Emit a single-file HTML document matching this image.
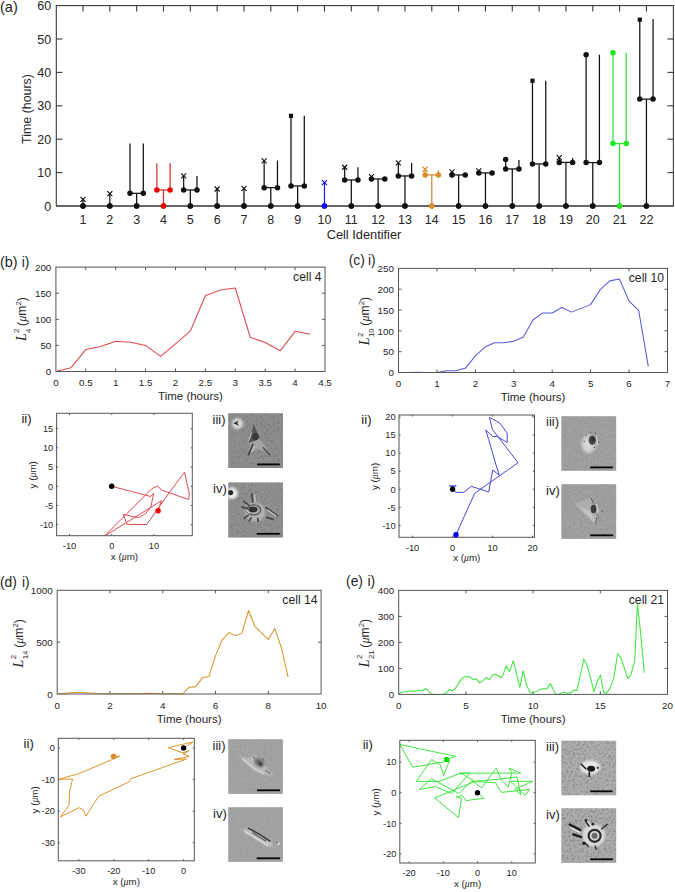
<!DOCTYPE html><html><head><meta charset="utf-8"><style>html,body{margin:0;padding:0;background:#fff;}svg{display:block;font-family:"Liberation Sans",sans-serif;}</style></head><body>
<svg width="675" height="892" viewBox="0 0 675 892">
<defs><filter id="blur1" x="-50%" y="-50%" width="200%" height="200%"><feGaussianBlur stdDeviation="0.55"/></filter><filter id="blur2" x="-50%" y="-50%" width="200%" height="200%"><feGaussianBlur stdDeviation="1.2"/></filter></defs>
<rect width="675" height="892" fill="#fff"/>
<text x="51.2" y="210.5" font-size="12.5" text-anchor="end" fill="#262626" >0</text>
<line x1="56.3" y1="172.6" x2="62.3" y2="172.6" stroke="#3a3a3a" stroke-width="1.1" />
<line x1="673.4" y1="172.6" x2="667.4" y2="172.6" stroke="#3a3a3a" stroke-width="1.1" />
<text x="51.2" y="177.1" font-size="12.5" text-anchor="end" fill="#262626" >10</text>
<line x1="56.3" y1="139.2" x2="62.3" y2="139.2" stroke="#3a3a3a" stroke-width="1.1" />
<line x1="673.4" y1="139.2" x2="667.4" y2="139.2" stroke="#3a3a3a" stroke-width="1.1" />
<text x="51.2" y="143.7" font-size="12.5" text-anchor="end" fill="#262626" >20</text>
<line x1="56.3" y1="105.8" x2="62.3" y2="105.8" stroke="#3a3a3a" stroke-width="1.1" />
<line x1="673.4" y1="105.8" x2="667.4" y2="105.8" stroke="#3a3a3a" stroke-width="1.1" />
<text x="51.2" y="110.3" font-size="12.5" text-anchor="end" fill="#262626" >30</text>
<line x1="56.3" y1="72.4" x2="62.3" y2="72.4" stroke="#3a3a3a" stroke-width="1.1" />
<line x1="673.4" y1="72.4" x2="667.4" y2="72.4" stroke="#3a3a3a" stroke-width="1.1" />
<text x="51.2" y="76.9" font-size="12.5" text-anchor="end" fill="#262626" >40</text>
<line x1="56.3" y1="39" x2="62.3" y2="39" stroke="#3a3a3a" stroke-width="1.1" />
<line x1="673.4" y1="39" x2="667.4" y2="39" stroke="#3a3a3a" stroke-width="1.1" />
<text x="51.2" y="43.5" font-size="12.5" text-anchor="end" fill="#262626" >50</text>
<text x="51.2" y="10.1" font-size="12.5" text-anchor="end" fill="#262626" >60</text>
<line x1="83" y1="5.6" x2="83" y2="11.6" stroke="#3a3a3a" stroke-width="1.1" />
<text x="83" y="223.8" font-size="12.5" text-anchor="middle" fill="#262626" >1</text>
<line x1="109.83" y1="5.6" x2="109.83" y2="11.6" stroke="#3a3a3a" stroke-width="1.1" />
<text x="109.83" y="223.8" font-size="12.5" text-anchor="middle" fill="#262626" >2</text>
<line x1="136.66" y1="5.6" x2="136.66" y2="11.6" stroke="#3a3a3a" stroke-width="1.1" />
<text x="136.66" y="223.8" font-size="12.5" text-anchor="middle" fill="#262626" >3</text>
<line x1="163.49" y1="5.6" x2="163.49" y2="11.6" stroke="#3a3a3a" stroke-width="1.1" />
<text x="163.49" y="223.8" font-size="12.5" text-anchor="middle" fill="#262626" >4</text>
<line x1="190.32" y1="5.6" x2="190.32" y2="11.6" stroke="#3a3a3a" stroke-width="1.1" />
<text x="190.32" y="223.8" font-size="12.5" text-anchor="middle" fill="#262626" >5</text>
<line x1="217.15" y1="5.6" x2="217.15" y2="11.6" stroke="#3a3a3a" stroke-width="1.1" />
<text x="217.15" y="223.8" font-size="12.5" text-anchor="middle" fill="#262626" >6</text>
<line x1="243.98" y1="5.6" x2="243.98" y2="11.6" stroke="#3a3a3a" stroke-width="1.1" />
<text x="243.98" y="223.8" font-size="12.5" text-anchor="middle" fill="#262626" >7</text>
<line x1="270.81" y1="5.6" x2="270.81" y2="11.6" stroke="#3a3a3a" stroke-width="1.1" />
<text x="270.81" y="223.8" font-size="12.5" text-anchor="middle" fill="#262626" >8</text>
<line x1="297.64" y1="5.6" x2="297.64" y2="11.6" stroke="#3a3a3a" stroke-width="1.1" />
<text x="297.64" y="223.8" font-size="12.5" text-anchor="middle" fill="#262626" >9</text>
<line x1="324.47" y1="5.6" x2="324.47" y2="11.6" stroke="#3a3a3a" stroke-width="1.1" />
<text x="324.47" y="223.8" font-size="12.5" text-anchor="middle" fill="#262626" >10</text>
<line x1="351.3" y1="5.6" x2="351.3" y2="11.6" stroke="#3a3a3a" stroke-width="1.1" />
<text x="351.3" y="223.8" font-size="12.5" text-anchor="middle" fill="#262626" >11</text>
<line x1="378.13" y1="5.6" x2="378.13" y2="11.6" stroke="#3a3a3a" stroke-width="1.1" />
<text x="378.13" y="223.8" font-size="12.5" text-anchor="middle" fill="#262626" >12</text>
<line x1="404.96" y1="5.6" x2="404.96" y2="11.6" stroke="#3a3a3a" stroke-width="1.1" />
<text x="404.96" y="223.8" font-size="12.5" text-anchor="middle" fill="#262626" >13</text>
<line x1="431.79" y1="5.6" x2="431.79" y2="11.6" stroke="#3a3a3a" stroke-width="1.1" />
<text x="431.79" y="223.8" font-size="12.5" text-anchor="middle" fill="#262626" >14</text>
<line x1="458.62" y1="5.6" x2="458.62" y2="11.6" stroke="#3a3a3a" stroke-width="1.1" />
<text x="458.62" y="223.8" font-size="12.5" text-anchor="middle" fill="#262626" >15</text>
<line x1="485.45" y1="5.6" x2="485.45" y2="11.6" stroke="#3a3a3a" stroke-width="1.1" />
<text x="485.45" y="223.8" font-size="12.5" text-anchor="middle" fill="#262626" >16</text>
<line x1="512.28" y1="5.6" x2="512.28" y2="11.6" stroke="#3a3a3a" stroke-width="1.1" />
<text x="512.28" y="223.8" font-size="12.5" text-anchor="middle" fill="#262626" >17</text>
<line x1="539.11" y1="5.6" x2="539.11" y2="11.6" stroke="#3a3a3a" stroke-width="1.1" />
<text x="539.11" y="223.8" font-size="12.5" text-anchor="middle" fill="#262626" >18</text>
<line x1="565.94" y1="5.6" x2="565.94" y2="11.6" stroke="#3a3a3a" stroke-width="1.1" />
<text x="565.94" y="223.8" font-size="12.5" text-anchor="middle" fill="#262626" >19</text>
<line x1="592.77" y1="5.6" x2="592.77" y2="11.6" stroke="#3a3a3a" stroke-width="1.1" />
<text x="592.77" y="223.8" font-size="12.5" text-anchor="middle" fill="#262626" >20</text>
<line x1="619.6" y1="5.6" x2="619.6" y2="11.6" stroke="#3a3a3a" stroke-width="1.1" />
<text x="619.6" y="223.8" font-size="12.5" text-anchor="middle" fill="#262626" >21</text>
<line x1="646.43" y1="5.6" x2="646.43" y2="11.6" stroke="#3a3a3a" stroke-width="1.1" />
<text x="646.43" y="223.8" font-size="12.5" text-anchor="middle" fill="#262626" >22</text>
<rect x="56.3" y="5.6" width="617.1" height="200.4" fill="none" stroke="#3a3a3a" stroke-width="1.1"/>
<text x="-0.1" y="11.9" font-size="14.6" text-anchor="start" fill="#262626" >(a)</text>
<text transform="translate(31.2,109) rotate(-90)" font-size="12.4" text-anchor="middle" fill="#262626">Time (hours)</text>
<text x="364" y="239" font-size="12.8" text-anchor="middle" fill="#262626" >Cell Identifier</text>
<line x1="83" y1="206" x2="83" y2="199.32" stroke="#111" stroke-width="1.25" />
<circle cx="83" cy="206" r="2.75" fill="#111"/>
<line x1="80.5" y1="196.82" x2="85.5" y2="201.82" stroke="#111" stroke-width="1.15" />
<line x1="80.5" y1="201.82" x2="85.5" y2="196.82" stroke="#111" stroke-width="1.15" />
<line x1="109.83" y1="206" x2="109.83" y2="193.64" stroke="#111" stroke-width="1.25" />
<circle cx="109.83" cy="206" r="2.75" fill="#111"/>
<line x1="107.33" y1="191.14" x2="112.33" y2="196.14" stroke="#111" stroke-width="1.15" />
<line x1="107.33" y1="196.14" x2="112.33" y2="191.14" stroke="#111" stroke-width="1.15" />
<line x1="136.66" y1="206" x2="136.66" y2="193.31" stroke="#111" stroke-width="1.25" />
<line x1="130.01" y1="193.31" x2="143.31" y2="193.31" stroke="#111" stroke-width="1.25" />
<line x1="130.01" y1="193.31" x2="130.01" y2="143.54" stroke="#111" stroke-width="1.25" />
<line x1="143.31" y1="193.31" x2="143.31" y2="143.54" stroke="#111" stroke-width="1.25" />
<circle cx="136.66" cy="206" r="2.75" fill="#111"/>
<circle cx="130.01" cy="193.31" r="2.75" fill="#111"/>
<circle cx="143.31" cy="193.31" r="2.75" fill="#111"/>
<line x1="163.49" y1="206" x2="163.49" y2="189.97" stroke="#d03030" stroke-width="1.25" />
<line x1="156.84" y1="189.97" x2="170.14" y2="189.97" stroke="#d03030" stroke-width="1.25" />
<line x1="156.84" y1="189.97" x2="156.84" y2="163.25" stroke="#d03030" stroke-width="1.25" />
<line x1="170.14" y1="189.97" x2="170.14" y2="163.25" stroke="#d03030" stroke-width="1.25" />
<circle cx="163.49" cy="206" r="2.75" fill="#f00000"/>
<circle cx="156.84" cy="189.97" r="2.75" fill="#f00000"/>
<circle cx="170.14" cy="189.97" r="2.75" fill="#f00000"/>
<line x1="190.32" y1="206" x2="190.32" y2="189.97" stroke="#111" stroke-width="1.25" />
<line x1="183.67" y1="189.97" x2="196.97" y2="189.97" stroke="#111" stroke-width="1.25" />
<line x1="183.67" y1="189.97" x2="183.67" y2="175.94" stroke="#111" stroke-width="1.25" />
<line x1="196.97" y1="189.97" x2="196.97" y2="175.94" stroke="#111" stroke-width="1.25" />
<circle cx="190.32" cy="206" r="2.75" fill="#111"/>
<circle cx="183.67" cy="189.97" r="2.75" fill="#111"/>
<circle cx="196.97" cy="189.97" r="2.75" fill="#111"/>
<line x1="181.17" y1="173.44" x2="186.17" y2="178.44" stroke="#111" stroke-width="1.15" />
<line x1="181.17" y1="178.44" x2="186.17" y2="173.44" stroke="#111" stroke-width="1.15" />
<line x1="217.15" y1="206" x2="217.15" y2="188.97" stroke="#111" stroke-width="1.25" />
<circle cx="217.15" cy="206" r="2.75" fill="#111"/>
<line x1="214.65" y1="186.47" x2="219.65" y2="191.47" stroke="#111" stroke-width="1.15" />
<line x1="214.65" y1="191.47" x2="219.65" y2="186.47" stroke="#111" stroke-width="1.15" />
<line x1="243.98" y1="206" x2="243.98" y2="188.3" stroke="#111" stroke-width="1.25" />
<circle cx="243.98" cy="206" r="2.75" fill="#111"/>
<line x1="241.48" y1="185.8" x2="246.48" y2="190.8" stroke="#111" stroke-width="1.15" />
<line x1="241.48" y1="190.8" x2="246.48" y2="185.8" stroke="#111" stroke-width="1.15" />
<line x1="270.81" y1="206" x2="270.81" y2="187.63" stroke="#111" stroke-width="1.25" />
<line x1="264.16" y1="187.63" x2="277.46" y2="187.63" stroke="#111" stroke-width="1.25" />
<line x1="264.16" y1="187.63" x2="264.16" y2="160.91" stroke="#111" stroke-width="1.25" />
<line x1="277.46" y1="187.63" x2="277.46" y2="160.58" stroke="#111" stroke-width="1.25" />
<circle cx="270.81" cy="206" r="2.75" fill="#111"/>
<circle cx="264.16" cy="187.63" r="2.75" fill="#111"/>
<circle cx="277.46" cy="187.63" r="2.75" fill="#111"/>
<line x1="261.66" y1="158.41" x2="266.66" y2="163.41" stroke="#111" stroke-width="1.15" />
<line x1="261.66" y1="163.41" x2="266.66" y2="158.41" stroke="#111" stroke-width="1.15" />
<line x1="297.64" y1="206" x2="297.64" y2="185.96" stroke="#111" stroke-width="1.25" />
<line x1="290.99" y1="185.96" x2="304.29" y2="185.96" stroke="#111" stroke-width="1.25" />
<line x1="290.99" y1="185.96" x2="290.99" y2="115.82" stroke="#111" stroke-width="1.25" />
<line x1="304.29" y1="185.96" x2="304.29" y2="115.82" stroke="#111" stroke-width="1.25" />
<circle cx="297.64" cy="206" r="2.75" fill="#111"/>
<circle cx="290.99" cy="185.96" r="2.75" fill="#111"/>
<circle cx="304.29" cy="185.96" r="2.75" fill="#111"/>
<rect x="288.89" y="113.72" width="4.2" height="4.2" fill="#111"/>
<line x1="324.47" y1="206" x2="324.47" y2="182.62" stroke="#2020e0" stroke-width="1.25" />
<circle cx="324.47" cy="206" r="2.75" fill="#1010f0"/>
<line x1="321.97" y1="180.12" x2="326.97" y2="185.12" stroke="#1010f0" stroke-width="1.15" />
<line x1="321.97" y1="185.12" x2="326.97" y2="180.12" stroke="#1010f0" stroke-width="1.15" />
<line x1="351.3" y1="206" x2="351.3" y2="179.95" stroke="#111" stroke-width="1.25" />
<line x1="344.65" y1="179.95" x2="357.95" y2="179.95" stroke="#111" stroke-width="1.25" />
<line x1="344.65" y1="179.95" x2="344.65" y2="167.26" stroke="#111" stroke-width="1.25" />
<line x1="357.95" y1="179.95" x2="357.95" y2="167.26" stroke="#111" stroke-width="1.25" />
<circle cx="351.3" cy="206" r="2.75" fill="#111"/>
<circle cx="344.65" cy="179.95" r="2.75" fill="#111"/>
<circle cx="357.95" cy="179.95" r="2.75" fill="#111"/>
<line x1="342.15" y1="164.76" x2="347.15" y2="169.76" stroke="#111" stroke-width="1.15" />
<line x1="342.15" y1="169.76" x2="347.15" y2="164.76" stroke="#111" stroke-width="1.15" />
<line x1="378.13" y1="206" x2="378.13" y2="178.95" stroke="#111" stroke-width="1.25" />
<line x1="371.48" y1="178.95" x2="384.78" y2="178.95" stroke="#111" stroke-width="1.25" />
<line x1="371.48" y1="178.95" x2="371.48" y2="176.61" stroke="#111" stroke-width="1.25" />
<line x1="384.78" y1="178.95" x2="384.78" y2="178.95" stroke="#111" stroke-width="1.25" />
<circle cx="378.13" cy="206" r="2.75" fill="#111"/>
<circle cx="371.48" cy="178.95" r="2.75" fill="#111"/>
<circle cx="384.78" cy="178.95" r="2.75" fill="#111"/>
<line x1="368.98" y1="174.11" x2="373.98" y2="179.11" stroke="#111" stroke-width="1.15" />
<line x1="368.98" y1="179.11" x2="373.98" y2="174.11" stroke="#111" stroke-width="1.15" />
<line x1="404.96" y1="206" x2="404.96" y2="175.94" stroke="#111" stroke-width="1.25" />
<line x1="398.31" y1="175.94" x2="411.61" y2="175.94" stroke="#111" stroke-width="1.25" />
<line x1="398.31" y1="175.94" x2="398.31" y2="162.91" stroke="#111" stroke-width="1.25" />
<line x1="411.61" y1="175.94" x2="411.61" y2="162.91" stroke="#111" stroke-width="1.25" />
<circle cx="404.96" cy="206" r="2.75" fill="#111"/>
<circle cx="398.31" cy="175.94" r="2.75" fill="#111"/>
<circle cx="411.61" cy="175.94" r="2.75" fill="#111"/>
<line x1="395.81" y1="160.41" x2="400.81" y2="165.41" stroke="#111" stroke-width="1.15" />
<line x1="395.81" y1="165.41" x2="400.81" y2="160.41" stroke="#111" stroke-width="1.15" />
<line x1="431.79" y1="206" x2="431.79" y2="174.94" stroke="#d08a30" stroke-width="1.25" />
<line x1="425.14" y1="174.94" x2="438.44" y2="174.94" stroke="#d08a30" stroke-width="1.25" />
<line x1="425.14" y1="174.94" x2="425.14" y2="169.26" stroke="#d08a30" stroke-width="1.25" />
<line x1="438.44" y1="174.94" x2="438.44" y2="170.26" stroke="#d08a30" stroke-width="1.25" />
<circle cx="431.79" cy="206" r="2.75" fill="#d98d2c"/>
<circle cx="425.14" cy="174.94" r="2.75" fill="#d98d2c"/>
<circle cx="438.44" cy="174.94" r="2.75" fill="#d98d2c"/>
<line x1="422.64" y1="166.76" x2="427.64" y2="171.76" stroke="#d98d2c" stroke-width="1.15" />
<line x1="422.64" y1="171.76" x2="427.64" y2="166.76" stroke="#d98d2c" stroke-width="1.15" />
<line x1="458.62" y1="206" x2="458.62" y2="174.94" stroke="#111" stroke-width="1.25" />
<line x1="451.97" y1="174.94" x2="465.27" y2="174.94" stroke="#111" stroke-width="1.25" />
<line x1="451.97" y1="174.94" x2="451.97" y2="171.93" stroke="#111" stroke-width="1.25" />
<line x1="465.27" y1="174.94" x2="465.27" y2="174.94" stroke="#111" stroke-width="1.25" />
<circle cx="458.62" cy="206" r="2.75" fill="#111"/>
<circle cx="451.97" cy="174.94" r="2.75" fill="#111"/>
<circle cx="465.27" cy="174.94" r="2.75" fill="#111"/>
<line x1="449.47" y1="169.43" x2="454.47" y2="174.43" stroke="#111" stroke-width="1.15" />
<line x1="449.47" y1="174.43" x2="454.47" y2="169.43" stroke="#111" stroke-width="1.15" />
<line x1="485.45" y1="206" x2="485.45" y2="172.93" stroke="#111" stroke-width="1.25" />
<line x1="478.8" y1="172.93" x2="492.1" y2="172.93" stroke="#111" stroke-width="1.25" />
<line x1="478.8" y1="172.93" x2="478.8" y2="170.93" stroke="#111" stroke-width="1.25" />
<line x1="492.1" y1="172.93" x2="492.1" y2="172.93" stroke="#111" stroke-width="1.25" />
<circle cx="485.45" cy="206" r="2.75" fill="#111"/>
<circle cx="478.8" cy="172.93" r="2.75" fill="#111"/>
<circle cx="492.1" cy="172.93" r="2.75" fill="#111"/>
<line x1="476.3" y1="168.43" x2="481.3" y2="173.43" stroke="#111" stroke-width="1.15" />
<line x1="476.3" y1="173.43" x2="481.3" y2="168.43" stroke="#111" stroke-width="1.15" />
<line x1="512.28" y1="206" x2="512.28" y2="168.93" stroke="#111" stroke-width="1.25" />
<line x1="505.63" y1="168.93" x2="518.93" y2="168.93" stroke="#111" stroke-width="1.25" />
<line x1="505.63" y1="168.93" x2="505.63" y2="159.57" stroke="#111" stroke-width="1.25" />
<line x1="518.93" y1="168.93" x2="518.93" y2="159.91" stroke="#111" stroke-width="1.25" />
<circle cx="512.28" cy="206" r="2.75" fill="#111"/>
<circle cx="505.63" cy="168.93" r="2.75" fill="#111"/>
<circle cx="518.93" cy="168.93" r="2.75" fill="#111"/>
<circle cx="505.63" cy="159.57" r="2.75" fill="#111"/>
<line x1="539.11" y1="206" x2="539.11" y2="163.92" stroke="#111" stroke-width="1.25" />
<line x1="532.46" y1="163.92" x2="545.76" y2="163.92" stroke="#111" stroke-width="1.25" />
<line x1="532.46" y1="163.92" x2="532.46" y2="80.75" stroke="#111" stroke-width="1.25" />
<line x1="545.76" y1="163.92" x2="545.76" y2="80.75" stroke="#111" stroke-width="1.25" />
<circle cx="539.11" cy="206" r="2.75" fill="#111"/>
<circle cx="532.46" cy="163.92" r="2.75" fill="#111"/>
<circle cx="545.76" cy="163.92" r="2.75" fill="#111"/>
<rect x="530.36" y="78.65" width="4.2" height="4.2" fill="#111"/>
<line x1="565.94" y1="206" x2="565.94" y2="162.41" stroke="#111" stroke-width="1.25" />
<line x1="559.29" y1="162.41" x2="572.59" y2="162.41" stroke="#111" stroke-width="1.25" />
<line x1="559.29" y1="162.41" x2="559.29" y2="157.57" stroke="#111" stroke-width="1.25" />
<line x1="572.59" y1="162.41" x2="572.59" y2="157.9" stroke="#111" stroke-width="1.25" />
<circle cx="565.94" cy="206" r="2.75" fill="#111"/>
<circle cx="559.29" cy="162.41" r="2.75" fill="#111"/>
<circle cx="572.59" cy="162.41" r="2.75" fill="#111"/>
<line x1="556.79" y1="155.07" x2="561.79" y2="160.07" stroke="#111" stroke-width="1.15" />
<line x1="556.79" y1="160.07" x2="561.79" y2="155.07" stroke="#111" stroke-width="1.15" />
<line x1="592.77" y1="206" x2="592.77" y2="162.58" stroke="#111" stroke-width="1.25" />
<line x1="586.12" y1="162.58" x2="599.42" y2="162.58" stroke="#111" stroke-width="1.25" />
<line x1="586.12" y1="162.58" x2="586.12" y2="54.7" stroke="#111" stroke-width="1.25" />
<line x1="599.42" y1="162.58" x2="599.42" y2="54.7" stroke="#111" stroke-width="1.25" />
<circle cx="592.77" cy="206" r="2.75" fill="#111"/>
<circle cx="586.12" cy="162.58" r="2.75" fill="#111"/>
<circle cx="599.42" cy="162.58" r="2.75" fill="#111"/>
<circle cx="586.12" cy="54.7" r="2.75" fill="#111"/>
<line x1="619.6" y1="206" x2="619.6" y2="143.54" stroke="#3ae03a" stroke-width="1.25" />
<line x1="612.95" y1="143.54" x2="626.25" y2="143.54" stroke="#3ae03a" stroke-width="1.25" />
<line x1="612.95" y1="143.54" x2="612.95" y2="52.69" stroke="#3ae03a" stroke-width="1.25" />
<line x1="626.25" y1="143.54" x2="626.25" y2="52.69" stroke="#3ae03a" stroke-width="1.25" />
<circle cx="619.6" cy="206" r="2.75" fill="#1ee81e"/>
<circle cx="612.95" cy="143.54" r="2.75" fill="#1ee81e"/>
<circle cx="626.25" cy="143.54" r="2.75" fill="#1ee81e"/>
<circle cx="612.95" cy="52.69" r="2.75" fill="#1ee81e"/>
<line x1="646.43" y1="206" x2="646.43" y2="99.12" stroke="#111" stroke-width="1.25" />
<line x1="639.78" y1="99.12" x2="653.08" y2="99.12" stroke="#111" stroke-width="1.25" />
<line x1="639.78" y1="99.12" x2="639.78" y2="19.63" stroke="#111" stroke-width="1.25" />
<line x1="653.08" y1="99.12" x2="653.08" y2="18.96" stroke="#111" stroke-width="1.25" />
<circle cx="646.43" cy="206" r="2.75" fill="#111"/>
<circle cx="639.78" cy="99.12" r="2.75" fill="#111"/>
<circle cx="653.08" cy="99.12" r="2.75" fill="#111"/>
<rect x="637.68" y="17.53" width="4.2" height="4.2" fill="#111"/>
<line x1="56.3" y1="206" x2="673.4" y2="206" stroke="#3a3a3a" stroke-width="1.1" />
<circle cx="83" cy="206" r="2.75" fill="#111"/>
<circle cx="109.83" cy="206" r="2.75" fill="#111"/>
<circle cx="136.66" cy="206" r="2.75" fill="#111"/>
<circle cx="163.49" cy="206" r="2.75" fill="#f00000"/>
<circle cx="190.32" cy="206" r="2.75" fill="#111"/>
<circle cx="217.15" cy="206" r="2.75" fill="#111"/>
<circle cx="243.98" cy="206" r="2.75" fill="#111"/>
<circle cx="270.81" cy="206" r="2.75" fill="#111"/>
<circle cx="297.64" cy="206" r="2.75" fill="#111"/>
<circle cx="324.47" cy="206" r="2.75" fill="#1010f0"/>
<circle cx="351.3" cy="206" r="2.75" fill="#111"/>
<circle cx="378.13" cy="206" r="2.75" fill="#111"/>
<circle cx="404.96" cy="206" r="2.75" fill="#111"/>
<circle cx="431.79" cy="206" r="2.75" fill="#d98d2c"/>
<circle cx="458.62" cy="206" r="2.75" fill="#111"/>
<circle cx="485.45" cy="206" r="2.75" fill="#111"/>
<circle cx="512.28" cy="206" r="2.75" fill="#111"/>
<circle cx="539.11" cy="206" r="2.75" fill="#111"/>
<circle cx="565.94" cy="206" r="2.75" fill="#111"/>
<circle cx="592.77" cy="206" r="2.75" fill="#111"/>
<circle cx="619.6" cy="206" r="2.75" fill="#1ee81e"/>
<circle cx="646.43" cy="206" r="2.75" fill="#111"/>
<text x="55.9" y="386.1" font-size="9.8" text-anchor="middle" fill="#262626" >0</text>
<line x1="85.8" y1="371.5" x2="85.8" y2="368.5" stroke="#555555" stroke-width="1" />
<line x1="85.8" y1="267.1" x2="85.8" y2="270.1" stroke="#555555" stroke-width="1" />
<text x="85.8" y="386.1" font-size="9.8" text-anchor="middle" fill="#262626" >0.5</text>
<line x1="115.7" y1="371.5" x2="115.7" y2="368.5" stroke="#555555" stroke-width="1" />
<line x1="115.7" y1="267.1" x2="115.7" y2="270.1" stroke="#555555" stroke-width="1" />
<text x="115.7" y="386.1" font-size="9.8" text-anchor="middle" fill="#262626" >1</text>
<line x1="145.6" y1="371.5" x2="145.6" y2="368.5" stroke="#555555" stroke-width="1" />
<line x1="145.6" y1="267.1" x2="145.6" y2="270.1" stroke="#555555" stroke-width="1" />
<text x="145.6" y="386.1" font-size="9.8" text-anchor="middle" fill="#262626" >1.5</text>
<line x1="175.5" y1="371.5" x2="175.5" y2="368.5" stroke="#555555" stroke-width="1" />
<line x1="175.5" y1="267.1" x2="175.5" y2="270.1" stroke="#555555" stroke-width="1" />
<text x="175.5" y="386.1" font-size="9.8" text-anchor="middle" fill="#262626" >2</text>
<line x1="205.4" y1="371.5" x2="205.4" y2="368.5" stroke="#555555" stroke-width="1" />
<line x1="205.4" y1="267.1" x2="205.4" y2="270.1" stroke="#555555" stroke-width="1" />
<text x="205.4" y="386.1" font-size="9.8" text-anchor="middle" fill="#262626" >2.5</text>
<line x1="235.3" y1="371.5" x2="235.3" y2="368.5" stroke="#555555" stroke-width="1" />
<line x1="235.3" y1="267.1" x2="235.3" y2="270.1" stroke="#555555" stroke-width="1" />
<text x="235.3" y="386.1" font-size="9.8" text-anchor="middle" fill="#262626" >3</text>
<line x1="265.2" y1="371.5" x2="265.2" y2="368.5" stroke="#555555" stroke-width="1" />
<line x1="265.2" y1="267.1" x2="265.2" y2="270.1" stroke="#555555" stroke-width="1" />
<text x="265.2" y="386.1" font-size="9.8" text-anchor="middle" fill="#262626" >3.5</text>
<line x1="295.1" y1="371.5" x2="295.1" y2="368.5" stroke="#555555" stroke-width="1" />
<line x1="295.1" y1="267.1" x2="295.1" y2="270.1" stroke="#555555" stroke-width="1" />
<text x="295.1" y="386.1" font-size="9.8" text-anchor="middle" fill="#262626" >4</text>
<text x="325" y="386.1" font-size="9.8" text-anchor="middle" fill="#262626" >4.5</text>
<text x="51.3" y="375.2" font-size="9.8" text-anchor="end" fill="#262626" >0</text>
<line x1="55.9" y1="345.4" x2="58.9" y2="345.4" stroke="#555555" stroke-width="1" />
<line x1="325" y1="345.4" x2="322" y2="345.4" stroke="#555555" stroke-width="1" />
<text x="51.3" y="349.1" font-size="9.8" text-anchor="end" fill="#262626" >50</text>
<line x1="55.9" y1="319.3" x2="58.9" y2="319.3" stroke="#555555" stroke-width="1" />
<line x1="325" y1="319.3" x2="322" y2="319.3" stroke="#555555" stroke-width="1" />
<text x="51.3" y="323" font-size="9.8" text-anchor="end" fill="#262626" >100</text>
<line x1="55.9" y1="293.2" x2="58.9" y2="293.2" stroke="#555555" stroke-width="1" />
<line x1="325" y1="293.2" x2="322" y2="293.2" stroke="#555555" stroke-width="1" />
<text x="51.3" y="296.9" font-size="9.8" text-anchor="end" fill="#262626" >150</text>
<text x="51.3" y="270.8" font-size="9.8" text-anchor="end" fill="#262626" >200</text>
<polyline points="55.9,371.5 70.85,367.85 85.8,349.58 100.75,346.44 115.7,341.22 130.65,342.27 145.6,345.4 160.55,356.36 175.5,343.83 190.45,330.78 205.4,295.81 220.35,290.07 235.3,287.98 250.25,337.26 265.2,342.48 280.15,350.83 295.1,331.31 310.05,334.18" fill="none" stroke="#dc4a52" stroke-width="1.05" stroke-linejoin="round" />
<rect x="55.9" y="267.1" width="269.1" height="104.4" fill="none" stroke="#555555" stroke-width="1"/>
<text x="190.45" y="400.3" font-size="11.5" text-anchor="middle" fill="#262626" >Time (hours)</text>
<text x="321.5" y="280.5" font-size="12.2" text-anchor="end" fill="#262626" >cell 4</text>
<text x="-0.1" y="267.2" font-size="14.4" text-anchor="start" fill="#262626" >(b)</text>
<text x="21.8" y="267.2" font-size="13.8" text-anchor="start" fill="#262626" >i)</text>
<g transform="translate(25.9,341.1) rotate(-90)">
<text x="0" y="0" font-size="12.2" fill="#262626"><tspan font-family="Liberation Serif" font-style="italic" font-size="13.8">L</tspan><tspan font-size="7.8" dx="0.4" dy="4.6">4</tspan><tspan font-size="7.8" dx="-4.34" dy="-11.3">2</tspan><tspan dx="-0.60" dy="6.7"> (</tspan><tspan font-family="Liberation Serif" font-style="italic">μ</tspan><tspan>m</tspan><tspan font-size="7.8" dy="-5.4">2</tspan><tspan dy="5.4">)</tspan></text>
</g>
<text x="398.5" y="387.1" font-size="9.8" text-anchor="middle" fill="#262626" >0</text>
<line x1="436.93" y1="372.5" x2="436.93" y2="369.5" stroke="#555555" stroke-width="1" />
<line x1="436.93" y1="268.4" x2="436.93" y2="271.4" stroke="#555555" stroke-width="1" />
<text x="436.93" y="387.1" font-size="9.8" text-anchor="middle" fill="#262626" >1</text>
<line x1="475.36" y1="372.5" x2="475.36" y2="369.5" stroke="#555555" stroke-width="1" />
<line x1="475.36" y1="268.4" x2="475.36" y2="271.4" stroke="#555555" stroke-width="1" />
<text x="475.36" y="387.1" font-size="9.8" text-anchor="middle" fill="#262626" >2</text>
<line x1="513.79" y1="372.5" x2="513.79" y2="369.5" stroke="#555555" stroke-width="1" />
<line x1="513.79" y1="268.4" x2="513.79" y2="271.4" stroke="#555555" stroke-width="1" />
<text x="513.79" y="387.1" font-size="9.8" text-anchor="middle" fill="#262626" >3</text>
<line x1="552.21" y1="372.5" x2="552.21" y2="369.5" stroke="#555555" stroke-width="1" />
<line x1="552.21" y1="268.4" x2="552.21" y2="271.4" stroke="#555555" stroke-width="1" />
<text x="552.21" y="387.1" font-size="9.8" text-anchor="middle" fill="#262626" >4</text>
<line x1="590.64" y1="372.5" x2="590.64" y2="369.5" stroke="#555555" stroke-width="1" />
<line x1="590.64" y1="268.4" x2="590.64" y2="271.4" stroke="#555555" stroke-width="1" />
<text x="590.64" y="387.1" font-size="9.8" text-anchor="middle" fill="#262626" >5</text>
<line x1="629.07" y1="372.5" x2="629.07" y2="369.5" stroke="#555555" stroke-width="1" />
<line x1="629.07" y1="268.4" x2="629.07" y2="271.4" stroke="#555555" stroke-width="1" />
<text x="629.07" y="387.1" font-size="9.8" text-anchor="middle" fill="#262626" >6</text>
<text x="667.5" y="387.1" font-size="9.8" text-anchor="middle" fill="#262626" >7</text>
<text x="393.9" y="376.2" font-size="9.8" text-anchor="end" fill="#262626" >0</text>
<line x1="398.5" y1="351.68" x2="401.5" y2="351.68" stroke="#555555" stroke-width="1" />
<line x1="667.5" y1="351.68" x2="664.5" y2="351.68" stroke="#555555" stroke-width="1" />
<text x="393.9" y="355.38" font-size="9.8" text-anchor="end" fill="#262626" >50</text>
<line x1="398.5" y1="330.86" x2="401.5" y2="330.86" stroke="#555555" stroke-width="1" />
<line x1="667.5" y1="330.86" x2="664.5" y2="330.86" stroke="#555555" stroke-width="1" />
<text x="393.9" y="334.56" font-size="9.8" text-anchor="end" fill="#262626" >100</text>
<line x1="398.5" y1="310.04" x2="401.5" y2="310.04" stroke="#555555" stroke-width="1" />
<line x1="667.5" y1="310.04" x2="664.5" y2="310.04" stroke="#555555" stroke-width="1" />
<text x="393.9" y="313.74" font-size="9.8" text-anchor="end" fill="#262626" >150</text>
<line x1="398.5" y1="289.22" x2="401.5" y2="289.22" stroke="#555555" stroke-width="1" />
<line x1="667.5" y1="289.22" x2="664.5" y2="289.22" stroke="#555555" stroke-width="1" />
<text x="393.9" y="292.92" font-size="9.8" text-anchor="end" fill="#262626" >200</text>
<text x="393.9" y="272.1" font-size="9.8" text-anchor="end" fill="#262626" >250</text>
<polyline points="398.5,372.5 408.11,372.5 417.71,372.29 427.32,372.5 436.93,372.5 446.54,370.83 456.14,370.83 465.75,367.92 475.36,355.84 484.96,347.1 494.57,342.69 504.18,342.69 513.79,341.27 523.39,336.9 533,320.03 542.61,312.95 552.21,312.95 561.82,307.54 571.43,312.12 581.04,308.37 590.64,304.63 600.25,289.64 609.86,280.89 619.46,279.02 629.07,301.09 638.68,310.46 648.29,366.42" fill="none" stroke="#5b5bd6" stroke-width="1.05" stroke-linejoin="round" />
<rect x="398.5" y="268.4" width="269" height="104.1" fill="none" stroke="#555555" stroke-width="1"/>
<text x="533" y="401.3" font-size="11.5" text-anchor="middle" fill="#262626" >Time (hours)</text>
<text x="664" y="281.8" font-size="12.2" text-anchor="end" fill="#262626" >cell 10</text>
<text x="348.7" y="264.9" font-size="13.8" text-anchor="start" fill="#262626" >(c)</text>
<text x="368" y="264.9" font-size="13.8" text-anchor="start" fill="#262626" >i)</text>
<g transform="translate(369.4,345.2) rotate(-90)">
<text x="0" y="0" font-size="12.2" fill="#262626"><tspan font-family="Liberation Serif" font-style="italic" font-size="13.8">L</tspan><tspan font-size="7.8" dx="0.4" dy="4.6">10</tspan><tspan font-size="7.8" dx="-8.67" dy="-11.3">2</tspan><tspan dx="3.74" dy="6.7"> (</tspan><tspan font-family="Liberation Serif" font-style="italic">μ</tspan><tspan>m</tspan><tspan font-size="7.8" dy="-5.4">2</tspan><tspan dy="5.4">)</tspan></text>
</g>
<text x="57.2" y="708.6" font-size="9.8" text-anchor="middle" fill="#262626" >0</text>
<line x1="109.98" y1="694" x2="109.98" y2="691" stroke="#555555" stroke-width="1" />
<line x1="109.98" y1="590.3" x2="109.98" y2="593.3" stroke="#555555" stroke-width="1" />
<text x="109.98" y="708.6" font-size="9.8" text-anchor="middle" fill="#262626" >2</text>
<line x1="162.76" y1="694" x2="162.76" y2="691" stroke="#555555" stroke-width="1" />
<line x1="162.76" y1="590.3" x2="162.76" y2="593.3" stroke="#555555" stroke-width="1" />
<text x="162.76" y="708.6" font-size="9.8" text-anchor="middle" fill="#262626" >4</text>
<line x1="215.54" y1="694" x2="215.54" y2="691" stroke="#555555" stroke-width="1" />
<line x1="215.54" y1="590.3" x2="215.54" y2="593.3" stroke="#555555" stroke-width="1" />
<text x="215.54" y="708.6" font-size="9.8" text-anchor="middle" fill="#262626" >6</text>
<line x1="268.32" y1="694" x2="268.32" y2="691" stroke="#555555" stroke-width="1" />
<line x1="268.32" y1="590.3" x2="268.32" y2="593.3" stroke="#555555" stroke-width="1" />
<text x="268.32" y="708.6" font-size="9.8" text-anchor="middle" fill="#262626" >8</text>
<text x="321.1" y="708.6" font-size="9.8" text-anchor="middle" fill="#262626" >10</text>
<text x="52.6" y="697.7" font-size="9.8" text-anchor="end" fill="#262626" >0</text>
<line x1="57.2" y1="642.15" x2="60.2" y2="642.15" stroke="#555555" stroke-width="1" />
<line x1="321.1" y1="642.15" x2="318.1" y2="642.15" stroke="#555555" stroke-width="1" />
<text x="52.6" y="645.85" font-size="9.8" text-anchor="end" fill="#262626" >500</text>
<text x="52.6" y="594" font-size="9.8" text-anchor="end" fill="#262626" >1000</text>
<polyline points="57.2,694 63.8,693.48 70.4,692.76 76.99,692.44 83.59,692.44 90.19,692.96 96.78,693.48 103.38,693.69 109.98,693.79 116.58,693.79 123.18,693.79 129.77,693.79 136.37,693.79 142.97,693.48 149.56,693.17 156.16,693.48 162.76,693.79 169.36,693.79 175.96,693.79 182.55,694 189.15,687.16 195.75,686.64 202.35,677.82 208.94,676.58 215.54,655.63 222.14,640.08 228.74,632.51 235.33,635.62 241.93,633.13 248.53,610.52 255.12,626.7 261.72,633.13 268.32,639.35 274.92,628.57 281.51,648.06 288.11,677.1" fill="none" stroke="#d9952c" stroke-width="1.05" stroke-linejoin="round" />
<rect x="57.2" y="590.3" width="263.9" height="103.7" fill="none" stroke="#555555" stroke-width="1"/>
<text x="189.15" y="722.8" font-size="11.5" text-anchor="middle" fill="#262626" >Time (hours)</text>
<text x="317.6" y="603.7" font-size="12.2" text-anchor="end" fill="#262626" >cell 14</text>
<text x="0" y="587.4" font-size="13.8" text-anchor="start" fill="#262626" >(d)</text>
<text x="22" y="587.4" font-size="13.8" text-anchor="start" fill="#262626" >i)</text>
<g transform="translate(23,667.4) rotate(-90)">
<text x="0" y="0" font-size="12.2" fill="#262626"><tspan font-family="Liberation Serif" font-style="italic" font-size="13.8">L</tspan><tspan font-size="7.8" dx="0.4" dy="4.6">14</tspan><tspan font-size="7.8" dx="-8.67" dy="-11.3">2</tspan><tspan dx="3.74" dy="6.7"> (</tspan><tspan font-family="Liberation Serif" font-style="italic">μ</tspan><tspan>m</tspan><tspan font-size="7.8" dy="-5.4">2</tspan><tspan dy="5.4">)</tspan></text>
</g>
<text x="398.7" y="709" font-size="9.8" text-anchor="middle" fill="#262626" >0</text>
<line x1="465.9" y1="694.4" x2="465.9" y2="691.4" stroke="#555555" stroke-width="1" />
<line x1="465.9" y1="590.4" x2="465.9" y2="593.4" stroke="#555555" stroke-width="1" />
<text x="465.9" y="709" font-size="9.8" text-anchor="middle" fill="#262626" >5</text>
<line x1="533.1" y1="694.4" x2="533.1" y2="691.4" stroke="#555555" stroke-width="1" />
<line x1="533.1" y1="590.4" x2="533.1" y2="593.4" stroke="#555555" stroke-width="1" />
<text x="533.1" y="709" font-size="9.8" text-anchor="middle" fill="#262626" >10</text>
<line x1="600.3" y1="694.4" x2="600.3" y2="691.4" stroke="#555555" stroke-width="1" />
<line x1="600.3" y1="590.4" x2="600.3" y2="593.4" stroke="#555555" stroke-width="1" />
<text x="600.3" y="709" font-size="9.8" text-anchor="middle" fill="#262626" >15</text>
<text x="667.5" y="709" font-size="9.8" text-anchor="middle" fill="#262626" >20</text>
<text x="394.1" y="698.1" font-size="9.8" text-anchor="end" fill="#262626" >0</text>
<line x1="398.7" y1="668.4" x2="401.7" y2="668.4" stroke="#555555" stroke-width="1" />
<line x1="667.5" y1="668.4" x2="664.5" y2="668.4" stroke="#555555" stroke-width="1" />
<text x="394.1" y="672.1" font-size="9.8" text-anchor="end" fill="#262626" >100</text>
<line x1="398.7" y1="642.4" x2="401.7" y2="642.4" stroke="#555555" stroke-width="1" />
<line x1="667.5" y1="642.4" x2="664.5" y2="642.4" stroke="#555555" stroke-width="1" />
<text x="394.1" y="646.1" font-size="9.8" text-anchor="end" fill="#262626" >200</text>
<line x1="398.7" y1="616.4" x2="401.7" y2="616.4" stroke="#555555" stroke-width="1" />
<line x1="667.5" y1="616.4" x2="664.5" y2="616.4" stroke="#555555" stroke-width="1" />
<text x="394.1" y="620.1" font-size="9.8" text-anchor="end" fill="#262626" >300</text>
<text x="394.1" y="594.1" font-size="9.8" text-anchor="end" fill="#262626" >400</text>
<polyline points="398.7,694 402.3,691.9 407.4,691.5 411.6,691 415.7,691.2 419.5,690.2 422,691 425.7,688.5 428.2,690.6 431.3,694 435.5,694.4 439.6,694.4 443.8,694.4 446.9,692.3 449.4,689.4 452,690.8 455.2,688.8 458.3,683.6 461.4,679 464.5,676.9 468,676.5 470.7,677.3 473.4,679.8 476.3,678.8 479.6,682.9 482.1,681.5 486.3,677.3 489.4,679.8 492.5,675.3 495.6,674.2 498.3,675.7 501.2,677.8 503.3,674.2 506,666 509.5,671.5 513.3,660.7 516.4,673.2 519.9,687.3 523.2,670.7 526.7,685.6 530.3,692.9 535.4,692.1 539.7,689.6 544,688.5 546.8,689.1 550.4,683.5 555.3,693.9 559,694.3 563.3,692.1 567.6,693.4 570.8,692.8 574,690 576.8,690.6 580.5,674.5 583.7,659.1 586.9,664.9 590.1,676.7 594,691.7 597,682 600.5,675 603.5,692.1 606.3,693.4 609.5,689.1 613.8,678.4 617.6,653.5 621.3,658.4 627.7,678.8 631,674.5 634.8,660.6 637.4,603.2 640.6,632.6 644.3,672.8" fill="none" stroke="#3ee63e" stroke-width="1.05" stroke-linejoin="round" />
<rect x="398.7" y="590.4" width="268.8" height="104" fill="none" stroke="#555555" stroke-width="1"/>
<text x="533.1" y="723.2" font-size="11.5" text-anchor="middle" fill="#262626" >Time (hours)</text>
<text x="664" y="603.8" font-size="12.2" text-anchor="end" fill="#262626" >cell 21</text>
<text x="346.1" y="585.6" font-size="13.8" text-anchor="start" fill="#262626" >(e)</text>
<text x="367.5" y="585.6" font-size="13.8" text-anchor="start" fill="#262626" >i)</text>
<g transform="translate(369,667.2) rotate(-90)">
<text x="0" y="0" font-size="12.2" fill="#262626"><tspan font-family="Liberation Serif" font-style="italic" font-size="13.8">L</tspan><tspan font-size="7.8" dx="0.4" dy="4.6">21</tspan><tspan font-size="7.8" dx="-8.67" dy="-11.3">2</tspan><tspan dx="3.74" dy="6.7"> (</tspan><tspan font-family="Liberation Serif" font-style="italic">μ</tspan><tspan>m</tspan><tspan font-size="7.8" dy="-5.4">2</tspan><tspan dy="5.4">)</tspan></text>
</g>
<line x1="69.5" y1="535.7" x2="69.5" y2="534.1" stroke="#555555" stroke-width="1" />
<line x1="69.5" y1="413.3" x2="69.5" y2="414.9" stroke="#555555" stroke-width="1" />
<text x="69.5" y="548.9" font-size="9.2" text-anchor="middle" fill="#262626" >-10</text>
<line x1="111.7" y1="535.7" x2="111.7" y2="534.1" stroke="#555555" stroke-width="1" />
<line x1="111.7" y1="413.3" x2="111.7" y2="414.9" stroke="#555555" stroke-width="1" />
<text x="111.7" y="548.9" font-size="9.2" text-anchor="middle" fill="#262626" >0</text>
<line x1="153.9" y1="535.7" x2="153.9" y2="534.1" stroke="#555555" stroke-width="1" />
<line x1="153.9" y1="413.3" x2="153.9" y2="414.9" stroke="#555555" stroke-width="1" />
<text x="153.9" y="548.9" font-size="9.2" text-anchor="middle" fill="#262626" >10</text>
<line x1="56.6" y1="524.7" x2="58.2" y2="524.7" stroke="#555555" stroke-width="1" />
<line x1="192.3" y1="524.7" x2="190.7" y2="524.7" stroke="#555555" stroke-width="1" />
<text x="53.2" y="527.9" font-size="9.2" text-anchor="end" fill="#262626" >-10</text>
<line x1="56.6" y1="505.5" x2="58.2" y2="505.5" stroke="#555555" stroke-width="1" />
<line x1="192.3" y1="505.5" x2="190.7" y2="505.5" stroke="#555555" stroke-width="1" />
<text x="53.2" y="508.7" font-size="9.2" text-anchor="end" fill="#262626" >-5</text>
<line x1="56.6" y1="486.3" x2="58.2" y2="486.3" stroke="#555555" stroke-width="1" />
<line x1="192.3" y1="486.3" x2="190.7" y2="486.3" stroke="#555555" stroke-width="1" />
<text x="53.2" y="489.5" font-size="9.2" text-anchor="end" fill="#262626" >0</text>
<line x1="56.6" y1="467.1" x2="58.2" y2="467.1" stroke="#555555" stroke-width="1" />
<line x1="192.3" y1="467.1" x2="190.7" y2="467.1" stroke="#555555" stroke-width="1" />
<text x="53.2" y="470.3" font-size="9.2" text-anchor="end" fill="#262626" >5</text>
<line x1="56.6" y1="447.9" x2="58.2" y2="447.9" stroke="#555555" stroke-width="1" />
<line x1="192.3" y1="447.9" x2="190.7" y2="447.9" stroke="#555555" stroke-width="1" />
<text x="53.2" y="451.1" font-size="9.2" text-anchor="end" fill="#262626" >10</text>
<line x1="56.6" y1="428.7" x2="58.2" y2="428.7" stroke="#555555" stroke-width="1" />
<line x1="192.3" y1="428.7" x2="190.7" y2="428.7" stroke="#555555" stroke-width="1" />
<text x="53.2" y="431.9" font-size="9.2" text-anchor="end" fill="#262626" >15</text>
<clipPath id="clip56413"><rect x="56.6" y="413.3" width="135.7" height="122.4"/></clipPath>
<g clip-path="url(#clip56413)">
<polyline points="111.7,486.3 150.8,496.5 153.7,493.3 150.8,507.3 145.6,513.6 139.4,517.5 133.2,516.7 123.3,514.4 127,524.5 146.7,524.5 169.5,492.3 184.5,472.2 189.4,494.2 188.6,499.6 161.7,490.1 157.6,486.1 152,488.5 104,536.5 161.7,500.6 159.6,505.8 158.1,510.8" fill="none" stroke="#dc4a52" stroke-width="1.0" stroke-linejoin="round" />
</g>
<rect x="56.6" y="413.3" width="135.7" height="122.4" fill="none" stroke="#555555" stroke-width="1"/>
<circle cx="111.7" cy="486.3" r="2.7" fill="#000"/>
<circle cx="158.1" cy="510.8" r="2.7" fill="#f00000"/>
<text transform="translate(35.8,474.8) rotate(-90)" font-size="9.8" text-anchor="middle" fill="#262626">y (<tspan font-family="Liberation Serif" font-style="italic">μ</tspan>m)</text>
<text x="124.45" y="559.5" font-size="9.8" text-anchor="middle" fill="#262626">x (<tspan font-family="Liberation Serif" font-style="italic">μ</tspan>m)</text>
<text x="21.4" y="422.6" font-size="13.2" text-anchor="start" fill="#262626" >ii)</text>
<line x1="412.6" y1="537.3" x2="412.6" y2="535.7" stroke="#555555" stroke-width="1" />
<line x1="412.6" y1="415" x2="412.6" y2="416.6" stroke="#555555" stroke-width="1" />
<text x="412.6" y="550.5" font-size="9.2" text-anchor="middle" fill="#262626" >-10</text>
<line x1="452.6" y1="537.3" x2="452.6" y2="535.7" stroke="#555555" stroke-width="1" />
<line x1="452.6" y1="415" x2="452.6" y2="416.6" stroke="#555555" stroke-width="1" />
<text x="452.6" y="550.5" font-size="9.2" text-anchor="middle" fill="#262626" >0</text>
<line x1="492.6" y1="537.3" x2="492.6" y2="535.7" stroke="#555555" stroke-width="1" />
<line x1="492.6" y1="415" x2="492.6" y2="416.6" stroke="#555555" stroke-width="1" />
<text x="492.6" y="550.5" font-size="9.2" text-anchor="middle" fill="#262626" >10</text>
<line x1="532.6" y1="537.3" x2="532.6" y2="535.7" stroke="#555555" stroke-width="1" />
<line x1="532.6" y1="415" x2="532.6" y2="416.6" stroke="#555555" stroke-width="1" />
<text x="532.6" y="550.5" font-size="9.2" text-anchor="middle" fill="#262626" >20</text>
<line x1="399" y1="525.4" x2="400.6" y2="525.4" stroke="#555555" stroke-width="1" />
<line x1="534.5" y1="525.4" x2="532.9" y2="525.4" stroke="#555555" stroke-width="1" />
<text x="395.6" y="528.6" font-size="9.2" text-anchor="end" fill="#262626" >-10</text>
<line x1="399" y1="507.35" x2="400.6" y2="507.35" stroke="#555555" stroke-width="1" />
<line x1="534.5" y1="507.35" x2="532.9" y2="507.35" stroke="#555555" stroke-width="1" />
<text x="395.6" y="510.55" font-size="9.2" text-anchor="end" fill="#262626" >-5</text>
<line x1="399" y1="489.3" x2="400.6" y2="489.3" stroke="#555555" stroke-width="1" />
<line x1="534.5" y1="489.3" x2="532.9" y2="489.3" stroke="#555555" stroke-width="1" />
<text x="395.6" y="492.5" font-size="9.2" text-anchor="end" fill="#262626" >0</text>
<line x1="399" y1="471.25" x2="400.6" y2="471.25" stroke="#555555" stroke-width="1" />
<line x1="534.5" y1="471.25" x2="532.9" y2="471.25" stroke="#555555" stroke-width="1" />
<text x="395.6" y="474.45" font-size="9.2" text-anchor="end" fill="#262626" >5</text>
<line x1="399" y1="453.2" x2="400.6" y2="453.2" stroke="#555555" stroke-width="1" />
<line x1="534.5" y1="453.2" x2="532.9" y2="453.2" stroke="#555555" stroke-width="1" />
<text x="395.6" y="456.4" font-size="9.2" text-anchor="end" fill="#262626" >10</text>
<line x1="399" y1="435.15" x2="400.6" y2="435.15" stroke="#555555" stroke-width="1" />
<line x1="534.5" y1="435.15" x2="532.9" y2="435.15" stroke="#555555" stroke-width="1" />
<text x="395.6" y="438.35" font-size="9.2" text-anchor="end" fill="#262626" >15</text>
<line x1="399" y1="417.1" x2="400.6" y2="417.1" stroke="#555555" stroke-width="1" />
<line x1="534.5" y1="417.1" x2="532.9" y2="417.1" stroke="#555555" stroke-width="1" />
<text x="395.6" y="420.3" font-size="9.2" text-anchor="end" fill="#262626" >20</text>
<clipPath id="clip399415"><rect x="399" y="415" width="135.5" height="122.3"/></clipPath>
<g clip-path="url(#clip399415)">
<polyline points="452.7,489.3 452.7,486 449.3,486 456.3,486 452.7,486 452.7,489.3 456,492.4 463.7,492.4 471.3,486.3 488.7,492 492.7,470 499.3,475.3 495,461.6 488.7,439.4 485.7,430.1 492.8,436.4 497.2,436.6 507.2,442.4 507.2,433.1 499.8,423.1 489.4,417.3 492.4,429.4 518,462.7 474.7,493.3 456,534.7" fill="none" stroke="#4848d8" stroke-width="1.0" stroke-linejoin="round" />
</g>
<rect x="399" y="415" width="135.5" height="122.3" fill="none" stroke="#555555" stroke-width="1"/>
<circle cx="452.6" cy="489.3" r="2.7" fill="#000"/>
<circle cx="456" cy="534.7" r="2.7" fill="#0000f0"/>
<text transform="translate(378.2,476.45) rotate(-90)" font-size="9.8" text-anchor="middle" fill="#262626">y (<tspan font-family="Liberation Serif" font-style="italic">μ</tspan>m)</text>
<text x="466.75" y="561.1" font-size="9.8" text-anchor="middle" fill="#262626">x (<tspan font-family="Liberation Serif" font-style="italic">μ</tspan>m)</text>
<text x="361.3" y="423.8" font-size="13.2" text-anchor="start" fill="#262626" >ii)</text>
<line x1="78.9" y1="860.8" x2="78.9" y2="859.2" stroke="#555555" stroke-width="1" />
<line x1="78.9" y1="738.3" x2="78.9" y2="739.9" stroke="#555555" stroke-width="1" />
<text x="78.9" y="874" font-size="9.2" text-anchor="middle" fill="#262626" >-30</text>
<line x1="113.8" y1="860.8" x2="113.8" y2="859.2" stroke="#555555" stroke-width="1" />
<line x1="113.8" y1="738.3" x2="113.8" y2="739.9" stroke="#555555" stroke-width="1" />
<text x="113.8" y="874" font-size="9.2" text-anchor="middle" fill="#262626" >-20</text>
<line x1="148.7" y1="860.8" x2="148.7" y2="859.2" stroke="#555555" stroke-width="1" />
<line x1="148.7" y1="738.3" x2="148.7" y2="739.9" stroke="#555555" stroke-width="1" />
<text x="148.7" y="874" font-size="9.2" text-anchor="middle" fill="#262626" >-10</text>
<line x1="183.6" y1="860.8" x2="183.6" y2="859.2" stroke="#555555" stroke-width="1" />
<line x1="183.6" y1="738.3" x2="183.6" y2="739.9" stroke="#555555" stroke-width="1" />
<text x="183.6" y="874" font-size="9.2" text-anchor="middle" fill="#262626" >0</text>
<line x1="58.3" y1="842.8" x2="59.9" y2="842.8" stroke="#555555" stroke-width="1" />
<line x1="194.3" y1="842.8" x2="192.7" y2="842.8" stroke="#555555" stroke-width="1" />
<text x="54.9" y="846" font-size="9.2" text-anchor="end" fill="#262626" >-30</text>
<line x1="58.3" y1="811.2" x2="59.9" y2="811.2" stroke="#555555" stroke-width="1" />
<line x1="194.3" y1="811.2" x2="192.7" y2="811.2" stroke="#555555" stroke-width="1" />
<text x="54.9" y="814.4" font-size="9.2" text-anchor="end" fill="#262626" >-20</text>
<line x1="58.3" y1="779.6" x2="59.9" y2="779.6" stroke="#555555" stroke-width="1" />
<line x1="194.3" y1="779.6" x2="192.7" y2="779.6" stroke="#555555" stroke-width="1" />
<text x="54.9" y="782.8" font-size="9.2" text-anchor="end" fill="#262626" >-10</text>
<line x1="58.3" y1="748" x2="59.9" y2="748" stroke="#555555" stroke-width="1" />
<line x1="194.3" y1="748" x2="192.7" y2="748" stroke="#555555" stroke-width="1" />
<text x="54.9" y="751.2" font-size="9.2" text-anchor="end" fill="#262626" >0</text>
<clipPath id="clip58738"><rect x="58.3" y="738.3" width="136" height="122.5"/></clipPath>
<g clip-path="url(#clip58738)">
<polyline points="183.7,748 193,742 168.1,747.6 182.6,752.8 189.3,750.6 183,754 189.3,756.5 174.4,759.4 186.3,759.1 130.7,778.8 129.1,781.9 98.6,796.3 85.9,816.2 83.5,809.9 79,807.7 60.5,816.8 69,805.3 69.5,791.7 72.6,779 58.3,779.4 79,773.6 119.8,756.3 113.5,756.3" fill="none" stroke="#d9952c" stroke-width="1.0" stroke-linejoin="round" />
</g>
<rect x="58.3" y="738.3" width="136" height="122.5" fill="none" stroke="#555555" stroke-width="1"/>
<circle cx="183.6" cy="748" r="2.7" fill="#000"/>
<circle cx="113.5" cy="756.3" r="2.7" fill="#d9882c"/>
<text transform="translate(37.5,799.85) rotate(-90)" font-size="9.8" text-anchor="middle" fill="#262626">y (<tspan font-family="Liberation Serif" font-style="italic">μ</tspan>m)</text>
<text x="126.3" y="884.6" font-size="9.8" text-anchor="middle" fill="#262626">x (<tspan font-family="Liberation Serif" font-style="italic">μ</tspan>m)</text>
<text x="23.6" y="747.8" font-size="13.2" text-anchor="start" fill="#262626" >ii)</text>
<line x1="409.1" y1="863" x2="409.1" y2="861.4" stroke="#555555" stroke-width="1" />
<line x1="409.1" y1="740.3" x2="409.1" y2="741.9" stroke="#555555" stroke-width="1" />
<text x="409.1" y="876.2" font-size="9.2" text-anchor="middle" fill="#262626" >-20</text>
<line x1="443.3" y1="863" x2="443.3" y2="861.4" stroke="#555555" stroke-width="1" />
<line x1="443.3" y1="740.3" x2="443.3" y2="741.9" stroke="#555555" stroke-width="1" />
<text x="443.3" y="876.2" font-size="9.2" text-anchor="middle" fill="#262626" >-10</text>
<line x1="477.5" y1="863" x2="477.5" y2="861.4" stroke="#555555" stroke-width="1" />
<line x1="477.5" y1="740.3" x2="477.5" y2="741.9" stroke="#555555" stroke-width="1" />
<text x="477.5" y="876.2" font-size="9.2" text-anchor="middle" fill="#262626" >0</text>
<line x1="511.7" y1="863" x2="511.7" y2="861.4" stroke="#555555" stroke-width="1" />
<line x1="511.7" y1="740.3" x2="511.7" y2="741.9" stroke="#555555" stroke-width="1" />
<text x="511.7" y="876.2" font-size="9.2" text-anchor="middle" fill="#262626" >10</text>
<line x1="399.8" y1="853.9" x2="401.4" y2="853.9" stroke="#555555" stroke-width="1" />
<line x1="535.3" y1="853.9" x2="533.7" y2="853.9" stroke="#555555" stroke-width="1" />
<text x="396.4" y="857.1" font-size="9.2" text-anchor="end" fill="#262626" >-20</text>
<line x1="399.8" y1="823.3" x2="401.4" y2="823.3" stroke="#555555" stroke-width="1" />
<line x1="535.3" y1="823.3" x2="533.7" y2="823.3" stroke="#555555" stroke-width="1" />
<text x="396.4" y="826.5" font-size="9.2" text-anchor="end" fill="#262626" >-10</text>
<line x1="399.8" y1="792.7" x2="401.4" y2="792.7" stroke="#555555" stroke-width="1" />
<line x1="535.3" y1="792.7" x2="533.7" y2="792.7" stroke="#555555" stroke-width="1" />
<text x="396.4" y="795.9" font-size="9.2" text-anchor="end" fill="#262626" >0</text>
<line x1="399.8" y1="762.1" x2="401.4" y2="762.1" stroke="#555555" stroke-width="1" />
<line x1="535.3" y1="762.1" x2="533.7" y2="762.1" stroke="#555555" stroke-width="1" />
<text x="396.4" y="765.3" font-size="9.2" text-anchor="end" fill="#262626" >10</text>
<clipPath id="clip399740"><rect x="399.8" y="740.3" width="135.5" height="122.7"/></clipPath>
<g clip-path="url(#clip399740)">
<polyline points="477.8,792.4 483.7,798.3 465.9,800.6 462.2,795.4 456.3,796.9 461.5,798.3 458.5,817.6 434.7,797.9 473.9,781.9 481.5,788 496.3,768 500.7,779.1 474.8,781.3 462.2,773.9 459.3,773.1 520.7,773.1 508.9,768 511.9,772.4 508.1,787.2 500.7,779.1 517,776.9 520.7,794.6 514.8,789.4 532.6,781.3 510.4,781.3 525.2,795.4 529.6,789.4 501.5,792.4 495.6,782.8 471.1,781.3 458.9,793.5 431.3,778.7 419.4,789.5 435.3,786.6 451.7,793.5 469.8,773.2 460.7,773.2 439,781.4 416.3,781.4 431.7,759.4 440.4,764.9 443.5,775.4 449.5,760.9 412.6,767.2 399.9,744.5 440.8,753.2 455.7,756.3 446.7,759.4" fill="none" stroke="#3ee63e" stroke-width="1.0" stroke-linejoin="round" />
</g>
<rect x="399.8" y="740.3" width="135.5" height="122.7" fill="none" stroke="#555555" stroke-width="1"/>
<circle cx="477.5" cy="792.7" r="2.7" fill="#000"/>
<circle cx="446.7" cy="759.4" r="2.7" fill="#00e000"/>
<text transform="translate(379,801.95) rotate(-90)" font-size="9.8" text-anchor="middle" fill="#262626">y (<tspan font-family="Liberation Serif" font-style="italic">μ</tspan>m)</text>
<text x="467.55" y="886.8" font-size="9.8" text-anchor="middle" fill="#262626">x (<tspan font-family="Liberation Serif" font-style="italic">μ</tspan>m)</text>
<text x="362.7" y="749" font-size="13.2" text-anchor="start" fill="#262626" >ii)</text>
<defs><filter id="noise" x="0" y="0" width="100%" height="100%"><feTurbulence type="fractalNoise" baseFrequency="0.45" numOctaves="2" seed="3" result="t"/><feColorMatrix type="matrix" values="0 0 0 0 0  0 0 0 0 0  0 0 0 0 0  0 0 0 -3 1.55"/></filter></defs>
<clipPath id="ci228413"><rect x="228.2" y="413.2" width="54.8" height="54.8"/></clipPath>
<rect x="228.2" y="413.2" width="54.8" height="54.8" fill="#8d8d8d"/>
<g clip-path="url(#ci228413)">
<rect x="228.2" y="413.2" width="54.8" height="54.8" filter="url(#noise)" opacity="0.12"/>
<g transform="translate(228.2,413.2)"><circle cx="9.3" cy="10.5" r="5.6" fill="#d6d6d6" filter="url(#blur2)"/><path d="M5,10 L10.5,7.2 L9,9.8 L11,12.5 Z" fill="#2e2e2e" filter="url(#blur1)"/><path d="M21.5,28.5 L30.5,25 L36,31 L42,41.5 L35,37.5 L28,36 L21,41 Z" fill="#a2a2a2" filter="url(#blur1)"/><path d="M25.3,10.2 L28.5,18 L31.5,24.5 L27,27.5 L21.5,29.5 L20.5,27 L23.5,20 Z" fill="#555" filter="url(#blur1)"/><ellipse cx="27.2" cy="23.5" rx="3.2" ry="3.6" fill="#383838" filter="url(#blur1)"/><path d="M24.6,31 L20.4,41.5" stroke="#353535" stroke-width="1.5" stroke-linecap="round" filter="url(#blur1)"/><path d="M35,34.5 L41.5,41.5" stroke="#454545" stroke-width="1.3" stroke-linecap="round" filter="url(#blur1)"/><path d="M20.5,27.5 L23.5,19.5 M26,33 L23,39" stroke="#c4c4c4" stroke-width="1" filter="url(#blur1)"/></g></g>
<line x1="257.1" y1="464.4" x2="279.8" y2="464.4" stroke="#050505" stroke-width="1.8" />
<text x="212.5" y="424" font-size="13.0" text-anchor="start" fill="#262626" >iii)</text>
<clipPath id="ci228482"><rect x="228.2" y="482.4" width="54.8" height="55.2"/></clipPath>
<rect x="228.2" y="482.4" width="54.8" height="55.2" fill="#8f8f8f"/>
<g clip-path="url(#ci228482)">
<rect x="228.2" y="482.4" width="54.8" height="55.2" filter="url(#noise)" opacity="0.12"/>
<g transform="translate(228.2,482.4)"><circle cx="3.6" cy="10.9" r="6" fill="#e8e8e8" filter="url(#blur2)"/><circle cx="2.4" cy="10.2" r="2.6" fill="#2a2a2a" filter="url(#blur1)"/><circle cx="27" cy="29.5" r="10" fill="#b0b0b0" filter="url(#blur2)"/><ellipse cx="25.5" cy="27.5" rx="7" ry="5" fill="none" stroke="#555" stroke-width="1.3" filter="url(#blur1)"/><ellipse cx="24.8" cy="27" rx="4.6" ry="2.8" fill="#333" filter="url(#blur1)"/><path d="M23.6,11.8 L24.5,19.8 M15.5,19 L20.5,22.5 M14,24.5 L19,26.5 M16,36 L20,33 M21,38.5 L23,35.5 M30,39 L29.5,36 M37.8,25.2 L49.4,33.2 M38.5,35 L45,37" stroke="#464646" stroke-width="1.7" stroke-linecap="round" filter="url(#blur1)"/><path d="M26.5,12.5 L27,19.5 M39,27.5 L48,33.5 M18,27 L21,31" stroke="#d2d2d2" stroke-width="1.1" filter="url(#blur1)"/></g></g>
<line x1="256.7" y1="533.8" x2="279.8" y2="533.8" stroke="#050505" stroke-width="1.8" />
<text x="213" y="492.7" font-size="13.0" text-anchor="start" fill="#262626" >iv)</text>
<clipPath id="ci561416"><rect x="561.3" y="416.2" width="54.9" height="54.6"/></clipPath>
<rect x="561.3" y="416.2" width="54.9" height="54.6" fill="#a0a0a0"/>
<g clip-path="url(#ci561416)">
<rect x="561.3" y="416.2" width="54.9" height="54.6" filter="url(#noise)" opacity="0.08"/>
<g transform="translate(561.3,416.2)"><ellipse cx="27.5" cy="27.5" rx="7.5" ry="9.5" fill="#c6c6c6" filter="url(#blur2)"/><ellipse cx="26.5" cy="29" rx="4" ry="6" fill="#d8d8d8" filter="url(#blur2)"/><ellipse cx="31" cy="24" rx="3.6" ry="4.8" fill="#4a4a4a" filter="url(#blur1)"/><ellipse cx="31.5" cy="23" rx="1.8" ry="2.5" fill="#2e2e2e" filter="url(#blur1)"/><path d="M35,19.5 L36.5,29" stroke="#d6d6d6" stroke-width="1" filter="url(#blur1)"/><g fill="#5a5a5a" filter="url(#blur1)"><circle cx="25" cy="19" r="0.7"/><circle cx="34" cy="17" r="0.8"/><circle cx="37.5" cy="26" r="0.7"/><circle cx="23" cy="25" r="0.6"/><circle cx="33" cy="31" r="0.7"/><circle cx="29" cy="16.5" r="0.6"/></g></g></g>
<line x1="590.2" y1="467.4" x2="612.9" y2="467.4" stroke="#050505" stroke-width="1.8" />
<text x="546" y="425.7" font-size="13.0" text-anchor="start" fill="#262626" >iii)</text>
<clipPath id="ci561484"><rect x="561.3" y="484.2" width="54.9" height="54.7"/></clipPath>
<rect x="561.3" y="484.2" width="54.9" height="54.7" fill="#a0a0a0"/>
<g clip-path="url(#ci561484)">
<rect x="561.3" y="484.2" width="54.9" height="54.7" filter="url(#noise)" opacity="0.08"/>
<g transform="translate(561.3,484.2)"><path d="M13.4,19.6 L29.8,13.8 L37.8,32.5 L34.3,39.6 Z" fill="#adadad" filter="url(#blur1)"/><path d="M17,22 L34,39 L30,28 Z" fill="#c8c8c8" filter="url(#blur2)"/><ellipse cx="32.2" cy="24.8" rx="2.8" ry="4.2" fill="#3c3c3c" filter="url(#blur1)"/><path d="M35.2,20 L37,28.5" stroke="#d8d8d8" stroke-width="1.1" filter="url(#blur1)"/><path d="M29.8,13.8 L32,19.5 M34.3,39.6 L35.5,33 M37.8,32.5 L35,30" stroke="#606060" stroke-width="1" filter="url(#blur1)"/><g fill="#5a5a5a" filter="url(#blur1)"><circle cx="41" cy="27" r="0.7"/><circle cx="37" cy="34" r="0.6"/></g></g></g>
<line x1="590.2" y1="535.3" x2="613.2" y2="535.3" stroke="#050505" stroke-width="1.8" />
<text x="546.1" y="494.7" font-size="13.0" text-anchor="start" fill="#262626" >iv)</text>
<clipPath id="ci228739"><rect x="228.2" y="739.2" width="54.7" height="54.7"/></clipPath>
<rect x="228.2" y="739.2" width="54.7" height="54.7" fill="#a3a3a3"/>
<g clip-path="url(#ci228739)">
<rect x="228.2" y="739.2" width="54.7" height="54.7" filter="url(#noise)" opacity="0.06"/>
<g transform="translate(228.2,739.2)"><path d="M11.5,17.5 L20,19 L26,15.5 L33,21 L39,30 L46,37 L36,35 L28,32 L21,26 Z" fill="#bababa" filter="url(#blur2)"/><path d="M14,19.5 L27,30 L36,34.5" stroke="#cacaca" stroke-width="2" fill="none" filter="url(#blur1)"/><ellipse cx="31" cy="23.5" rx="5.5" ry="3.8" transform="rotate(40 31 23.5)" fill="#6a6a6a" filter="url(#blur2)"/><ellipse cx="32" cy="24.5" rx="2.6" ry="2" transform="rotate(40 32 24.5)" fill="#4a4a4a" filter="url(#blur1)"/><path d="M25,17 L27,20 M37,31 L42,34.5 M34,19 L36,22" stroke="#5e5e5e" stroke-width="1" filter="url(#blur1)"/></g></g>
<line x1="257.1" y1="790.3" x2="280" y2="790.3" stroke="#050505" stroke-width="1.8" />
<text x="212.5" y="750" font-size="13.0" text-anchor="start" fill="#262626" >iii)</text>
<clipPath id="ci228807"><rect x="228.2" y="807.2" width="54.7" height="54.7"/></clipPath>
<rect x="228.2" y="807.2" width="54.7" height="54.7" fill="#a3a3a3"/>
<g clip-path="url(#ci228807)">
<rect x="228.2" y="807.2" width="54.7" height="54.7" filter="url(#noise)" opacity="0.06"/>
<g transform="translate(228.2,807.2)"><path d="M13.3,21.8 L22,22 L44,35.5 L44.5,40 L38,38.5 Z" fill="#c2c2c2" filter="url(#blur2)"/><path d="M20,20.9 L31,27 L42.2,34.2" stroke="#3a3a3a" stroke-width="1.6" fill="none" filter="url(#blur1)"/><path d="M24,25.5 L38,34" stroke="#6a6a6a" stroke-width="1.4" filter="url(#blur1)"/><path d="M16,24 L40,38.5" stroke="#dadada" stroke-width="1.5" filter="url(#blur1)"/><circle cx="50.2" cy="36.4" r="1.6" fill="#d2d2d2" filter="url(#blur1)"/><circle cx="49" cy="35.5" r="0.8" fill="#555" filter="url(#blur1)"/></g></g>
<line x1="256.7" y1="858.3" x2="280" y2="858.3" stroke="#050505" stroke-width="1.8" />
<text x="213" y="817.6" font-size="13.0" text-anchor="start" fill="#262626" >iv)</text>
<clipPath id="ci561740"><rect x="561.3" y="740.7" width="54.9" height="54.6"/></clipPath>
<rect x="561.3" y="740.7" width="54.9" height="54.6" fill="#acacac"/>
<g clip-path="url(#ci561740)">
<rect x="561.3" y="740.7" width="54.9" height="54.6" filter="url(#noise)" opacity="0.22"/>
<g transform="translate(561.3,740.7)"><ellipse cx="28.9" cy="26.7" rx="10" ry="7.2" fill="#e6e6e6" filter="url(#blur2)"/><ellipse cx="29.8" cy="28" rx="4" ry="3" fill="#1e1e1e" filter="url(#blur1)"/><path d="M19.5,23 L25,28.5 M28,31 L28,36.4" stroke="#222" stroke-width="1.6" filter="url(#blur1)"/><circle cx="36.5" cy="27" r="1.2" fill="#444" filter="url(#blur1)"/></g></g>
<line x1="590.2" y1="791.3" x2="612.6" y2="791.3" stroke="#050505" stroke-width="1.8" />
<text x="546" y="751" font-size="13.0" text-anchor="start" fill="#262626" >iii)</text>
<clipPath id="ci561808"><rect x="561.3" y="808.2" width="54.9" height="54.7"/></clipPath>
<rect x="561.3" y="808.2" width="54.9" height="54.7" fill="#ababab"/>
<g clip-path="url(#ci561808)">
<rect x="561.3" y="808.2" width="54.9" height="54.7" filter="url(#noise)" opacity="0.22"/>
<g transform="translate(561.3,808.2)"><circle cx="32.4" cy="27.1" r="11.5" fill="#d8d8d8" filter="url(#blur2)"/><circle cx="33.3" cy="27.6" r="6" fill="none" stroke="#2a2a2a" stroke-width="2.2" filter="url(#blur1)"/><circle cx="33.3" cy="27.6" r="3" fill="#6a6a6a" filter="url(#blur1)"/><path d="M8.4,16.4 L19.1,21.8 M24.4,12 L27.9,17.3 M12,26.2 L20,28.9" stroke="#1e1e1e" stroke-width="2.4" stroke-linecap="round" filter="url(#blur1)"/><path d="M45.8,16 L40.4,20.9 M24,35 L27,38 M34,38 L35,41" stroke="#2a2a2a" stroke-width="1.4" stroke-linecap="round" filter="url(#blur1)"/><circle cx="31.6" cy="16" r="1.4" fill="#222" filter="url(#blur1)"/><circle cx="22.7" cy="35.1" r="1.8" fill="#222" filter="url(#blur1)"/><path d="M9,19 L19,24.5 M26,13 L29.5,18" stroke="#f0f0f0" stroke-width="1.2" filter="url(#blur1)"/></g></g>
<line x1="590.2" y1="859.3" x2="612.9" y2="859.3" stroke="#050505" stroke-width="1.8" />
<text x="546.1" y="818.6" font-size="13.0" text-anchor="start" fill="#262626" >iv)</text>
</svg></body></html>
